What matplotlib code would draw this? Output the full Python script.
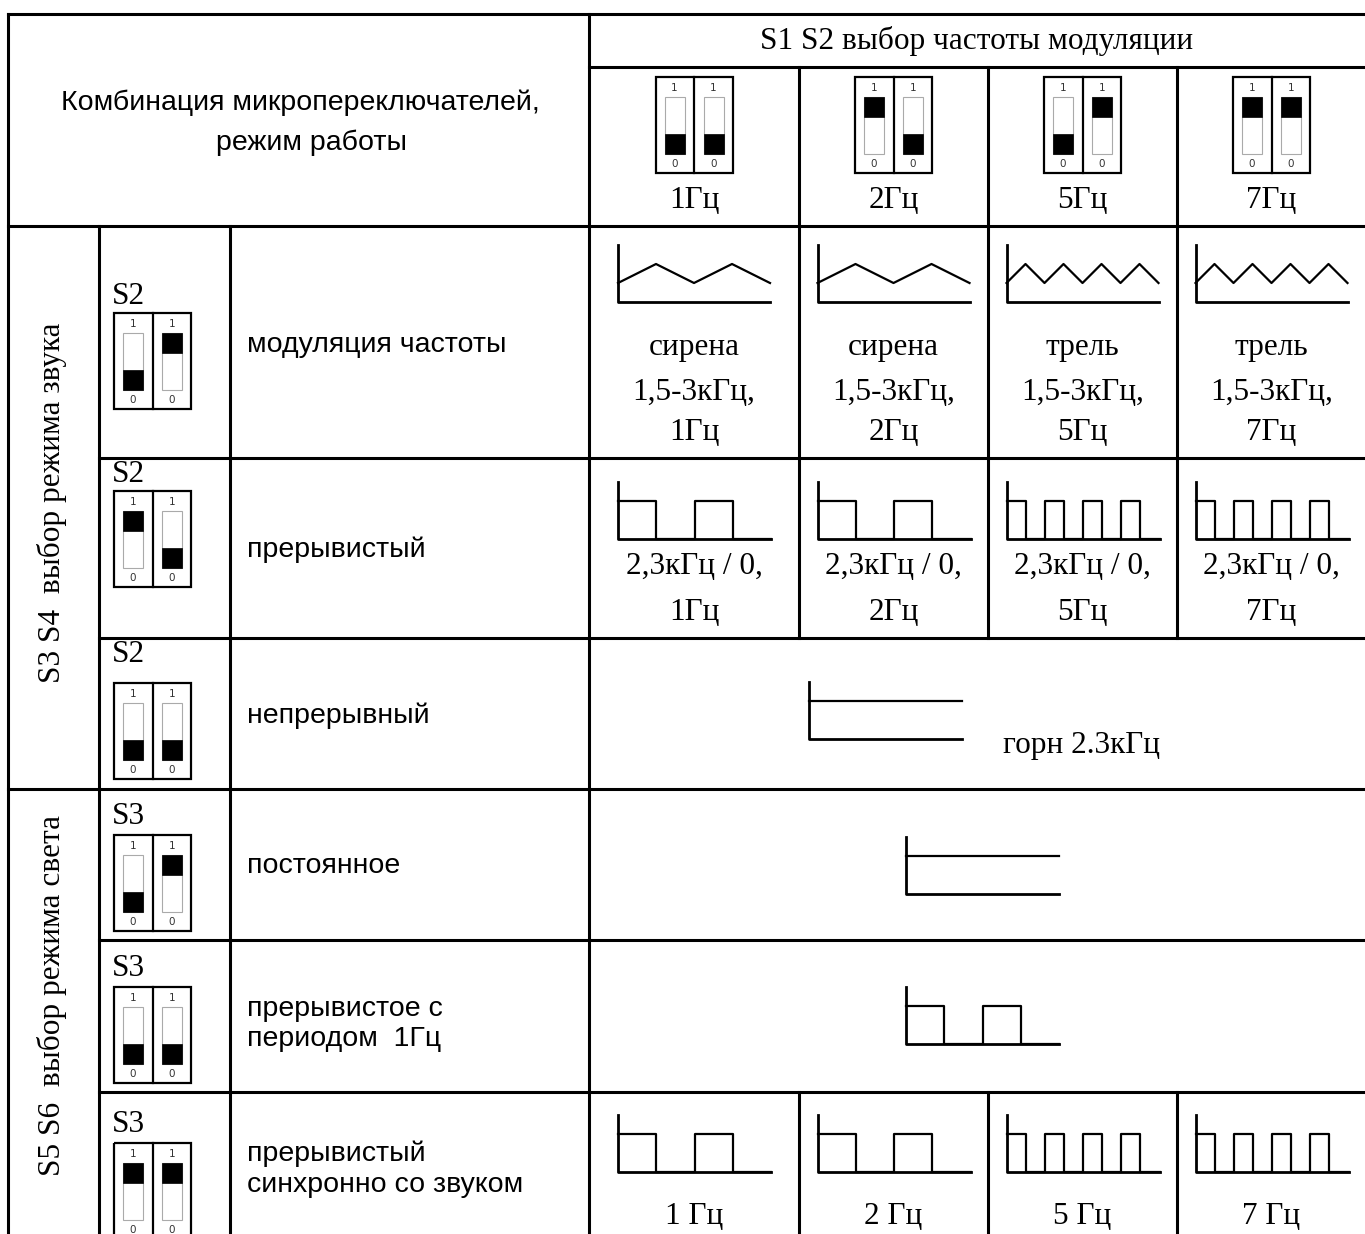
import matplotlib
matplotlib.use('Agg')
import matplotlib.pyplot as plt
from matplotlib.patches import Rectangle

# --- data ---
freq_labels = ['1Гц', '2Гц', '5Гц', '7Гц']
freq_switch = [(0, 0), (1, 0), (0, 1), (1, 1)]
wave_periods = [2, 2, 4, 4]

sound_modes = ['модуляция частоты', 'прерывистый', 'непрерывный']
sound_switch = [(0, 1), (1, 0), (0, 0)]
siren_names = ['сирена', 'сирена', 'трель', 'трель']
siren_range = '1,5-3кГц,'
pulse_text = '2,3кГц / 0,'
horn_text = 'горн 2.3кГц'

light_modes = ['постоянное', 'прерывистое с\nпериодом  1Гц', 'прерывистый\nсинхронно со звуком']
light_switch = [(0, 1), (0, 0), (1, 1)]
sync_labels = ['1 Гц', '2 Гц', '5 Гц', '7 Гц']

# --- layout (pixels) ---
W, H = 1365, 1234
col_x = [8, 99, 230, 589, 799, 988, 1177, 1366]
row_y = [14, 67, 226, 458, 638, 789, 940, 1092, 1240]
SERIF = 'Liberation Serif'
SANS = 'Liberation Sans'
FS_SERIF = 22.5
FS_SANS = 20.5
LW = 2.2

fig = plt.figure(figsize=(W / 100, H / 100), dpi=100)
ax = fig.add_axes([0, 0, 1, 1])
ax.set_xlim(0, W)
ax.set_ylim(H, 0)
ax.axis('off')


def hline(y, x1, x2):
    ax.plot([x1, x2], [y, y], color='k', lw=LW, solid_capstyle='projecting')


def vline(x, y1, y2):
    ax.plot([x, x], [y1, y2], color='k', lw=LW, solid_capstyle='projecting')


def serif(x, y, s, **kw):
    ax.text(x, y, s, family=SERIF, fontsize=kw.pop('fs', FS_SERIF),
            ha=kw.pop('ha', 'center'), va=kw.pop('va', 'center'), **kw)


def sans(x, y, s, **kw):
    ax.text(x, y, s, family=SANS, fontsize=FS_SANS, ha=kw.pop('ha', 'left'),
            va='center', linespacing=1.25, **kw)


def dip_switch(x, y, state):
    # two-way DIP switch, x,y = top-left of the box (77 x 96 px)
    ax.add_patch(Rectangle((x, y), 77, 96, fill=False, ec='k', lw=1.6))
    ax.plot([x + 38.5, x + 38.5], [y, y + 96], color='k', lw=1.6)
    for i, on in enumerate(state):
        sx = x + 9 + i * 39
        ax.add_patch(Rectangle((sx, y + 20), 20, 57, fill=False, ec='#aaaaaa', lw=0.8))
        by = y + 20 if on else y + 57
        ax.add_patch(Rectangle((sx, by), 20, 20, fc='k', ec='k', lw=0.5))
        ax.text(sx + 10, y + 11, '1', family='DejaVu Sans', fontsize=7.5,
                color='#333333', ha='center', va='center')
        ax.text(sx + 10, y + 87, '0', family='DejaVu Sans', fontsize=7.5,
                color='#333333', ha='center', va='center')


def axis_lines(x0, base, width=153):
    ax.plot([x0, x0, x0 + width], [base - 57, base, base], color='k', lw=2.0)


def triangle(x0, base, n):
    width = 152
    half = width / (2 * n)
    xs = [x0 + k * half for k in range(2 * n + 1)]
    ys = [base - 19 if k % 2 == 0 else base - 38 for k in range(2 * n + 1)]
    axis_lines(x0, base, width)
    ax.plot(xs, ys, color='k', lw=1.6)


def square(x0, base, n, width=153):
    half = width / (2 * n)
    xs, ys = [x0], [base - 38]
    for k in range(n):
        a = x0 + 2 * k * half
        xs += [a + half, a + half, a + 2 * half]
        ys += [base - 38, base, base]
        if k < n - 1:
            xs += [a + 2 * half]
            ys += [base - 38]
    axis_lines(x0, base, width)
    ax.plot(xs, ys, color='k', lw=1.6)


def flat(x0, base, width=153):
    axis_lines(x0, base, width)
    ax.plot([x0, x0 + width], [base - 38, base - 38], color='k', lw=1.6)


# --- grid ---
hline(row_y[0], col_x[0], W + 5)
hline(row_y[1], col_x[3], W + 5)
hline(row_y[2], col_x[0], W + 5)
hline(row_y[3], col_x[1], W + 5)
hline(row_y[4], col_x[1], W + 5)
hline(row_y[5], col_x[0], W + 5)
hline(row_y[6], col_x[1], W + 5)
hline(row_y[7], col_x[1], W + 5)

vline(col_x[0], row_y[0], H + 5)
vline(col_x[1], row_y[2], H + 5)
vline(col_x[2], row_y[2], H + 5)
vline(col_x[3], row_y[0], H + 5)
for c in (4, 5, 6):
    vline(col_x[c], row_y[1], row_y[4])
    vline(col_x[c], row_y[7], H + 5)

# --- header ---
sans(300, 103, 'Комбинация микропереключателей,', ha='center')
sans(312, 143, 'режим работы', ha='center')
serif(977, 41, 'S1 S2 выбор частоты модуляции')
for i, (lab, st) in enumerate(zip(freq_labels, freq_switch)):
    cx = (col_x[3 + i] + col_x[4 + i]) / 2
    dip_switch(cx - 38.5, 77, st)
    serif(cx, 201, lab)

# --- side labels ---
serif(52, 503, 'S3 S4  выбор режима звука', rotation=90)
serif(52, 996, 'S5 S6  выбор режима света', rotation=90)

# --- sound rows ---
sound_label_y = [296, 474, 655]
sound_box_y = [313, 491, 683]
sound_text_y = [345, 550, 716]
for lab_y, box_y, ty, mode, st in zip(sound_label_y, sound_box_y, sound_text_y,
                                      sound_modes, sound_switch):
    serif(112, lab_y, 'S2', ha='left')
    dip_switch(114, box_y, st)
    sans(247, ty, mode)

for i in range(4):
    cx = (col_x[3 + i] + col_x[4 + i]) / 2
    x0 = cx - 76
    triangle(x0, 302, wave_periods[i])
    serif(cx, 347, siren_names[i])
    serif(cx, 392, siren_range)
    serif(cx, 432, freq_labels[i])
    square(x0, 539, wave_periods[i])
    serif(cx, 567, pulse_text)
    serif(cx, 613, freq_labels[i])

flat(809, 739)
serif(1003, 745, horn_text, ha='left')

# --- light rows ---
light_label_y = [817, 968, 1124]
light_box_y = [835, 987, 1143]
light_text_y = [866, 1024, 1169]
for lab_y, box_y, ty, mode, st in zip(light_label_y, light_box_y, light_text_y,
                                      light_modes, light_switch):
    serif(112, lab_y, 'S3', ha='left')
    dip_switch(114, box_y, st)
    sans(247, ty, mode)

flat(906, 894)
square(906, 1044, 2)
for i in range(4):
    cx = (col_x[3 + i] + col_x[4 + i]) / 2
    square(cx - 76, 1172, wave_periods[i])
    serif(cx, 1217, sync_labels[i])

fig.savefig('out.png', dpi=100, facecolor='white')
